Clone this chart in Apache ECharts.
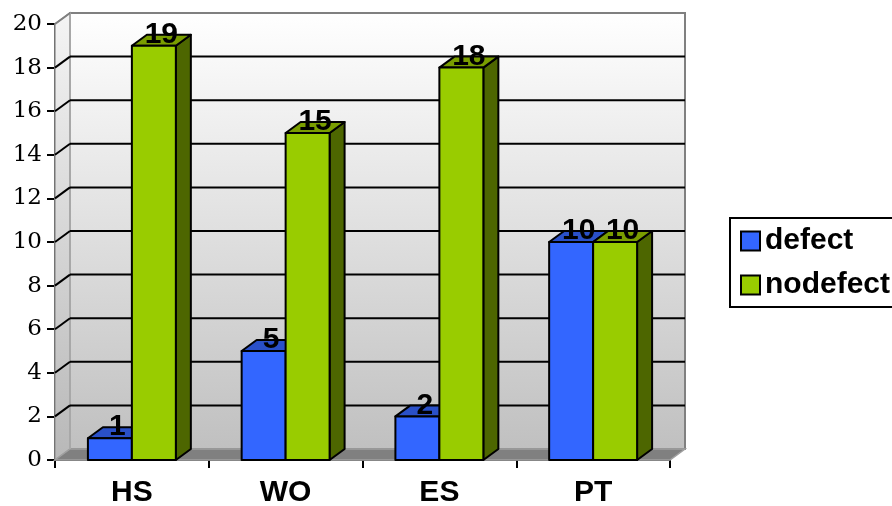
<!DOCTYPE html>
<html><head><meta charset="utf-8">
<script src="https://cdn.jsdelivr.net/npm/echarts@6/dist/echarts.min.js"></script>
<style>html,body{margin:0;padding:0;background:#fff}#c{width:892px;height:506px}</style>
</head><body><div id="c"></div>
<script>
const categories = ['HS', 'WO', 'ES', 'PT'];
const defect = [1, 5, 2, 10];
const nodefect = [19, 15, 18, 10];
const yTicks = [0, 2, 4, 6, 8, 10, 12, 14, 16, 18, 20];
const seriesNames = ['defect', 'nodefect'];

const DX = 15, DY = -11;
const BOLD = '"Liberation Sans", Arial, sans-serif';
const COLORS = [
  {front: '#3366FF', top: '#2a50c8', side: '#1f3d99'},
  {front: '#99CC00', top: '#7a9e00', side: '#4d6600'}
];

const chart = echarts.init(document.getElementById('c'), null, {renderer: 'canvas'});

function barGeom(api, side, i, v) {
  const c = api.coord([i, v]);
  const b = api.coord([i, 0]);
  const band = api.size([1, 0])[0];
  const w = band * 0.286;
  const x0 = side === 0 ? c[0] - w : c[0];
  return {x0: x0, x1: x0 + w, yt: c[1], yb: b[1]};
}

function barRender(side) {
  const col = COLORS[side];
  return function (params, api) {
    const g = barGeom(api, side, api.value(0), api.value(1));
    const st = {stroke: '#000', lineWidth: 2, lineJoin: 'round'};
    return {type: 'group', children: [
      {type: 'polygon', shape: {points: [[g.x1, g.yb], [g.x1 + DX, g.yb + DY], [g.x1 + DX, g.yt + DY], [g.x1, g.yt]]},
        style: Object.assign({fill: col.side}, st)},
      {type: 'polygon', shape: {points: [[g.x0, g.yt], [g.x0 + DX, g.yt + DY], [g.x1 + DX, g.yt + DY], [g.x1, g.yt]]},
        style: Object.assign({fill: col.top}, st)},
      {type: 'rect', shape: {x: g.x0, y: g.yt, width: g.x1 - g.x0, height: g.yb - g.yt},
        style: Object.assign({fill: col.front}, st)}
    ]};
  };
}

function labelRender(params, api) {
  const side = api.value(2);
  const v = api.value(1);
  const g = barGeom(api, side, api.value(0), v);
  return {type: 'text', x: (g.x0 + g.x1) / 2 + DX / 2, y: g.yt - 11,
    style: {text: String(v), fill: '#000', font: 'bold 30px ' + BOLD, align: 'center', verticalAlign: 'middle'}};
}

function wallRender(params, api) {
  const cs = params.coordSys;
  const L = cs.x, R = cs.x + cs.width, T = cs.y, B = cs.y + cs.height;
  const grad = new echarts.graphic.LinearGradient(0, 0, 0, 1, [
    {offset: 0, color: '#ffffff'}, {offset: 1, color: '#c0c0c0'}]);
  const grad2 = new echarts.graphic.LinearGradient(0, 0, 0, 1, [
    {offset: 0, color: '#f4f4f4'}, {offset: 1, color: '#b8b8b8'}]);
  return {type: 'group', children: [
    {type: 'rect', shape: {x: L + DX, y: T + DY, width: R - L, height: B - T}, style: {fill: grad, stroke: '#808080', lineWidth: 2}},
    {type: 'polygon', shape: {points: [[L, B], [L + DX, B + DY], [L + DX, T + DY], [L, T]]}, style: {fill: grad2, stroke: '#999', lineWidth: 1.5}},
    {type: 'polygon', shape: {points: [[L, B], [L + DX, B + DY], [R + DX, B + DY], [R, B]]}, style: {fill: '#808080', stroke: '#a0a0a0', lineWidth: 1.5}},
    {type: 'line', shape: {x1: L + DX, y1: T + DY, x2: L + DX, y2: B + DY}, style: {stroke: '#a8a8a8', lineWidth: 2}}
  ]};
}

function gridRender(params, api) {
  const cs = params.coordSys;
  const L = cs.x, R = cs.x + cs.width;
  const v = api.value(0);
  const y = api.coord([0, v])[1];
  if (v === yTicks[0]) return null;
  if (v === yTicks[yTicks.length - 1]) {
    return {type: 'line', shape: {x1: L, y1: y, x2: L + DX, y2: y + DY}, style: {stroke: '#808080', lineWidth: 2}};
  }
  return {type: 'group', children: [
    {type: 'line', shape: {x1: L, y1: y, x2: L + DX, y2: y + DY}, style: {stroke: '#000', lineWidth: 2}},
    {type: 'line', shape: {x1: L + DX, y1: y + DY, x2: R + DX, y2: y + DY}, style: {stroke: '#000', lineWidth: 2}}
  ]};
}

const labelData = [];
defect.forEach((v, i) => labelData.push([i, v, 0]));
nodefect.forEach((v, i) => labelData.push([i, v, 1]));

chart.setOption({
  animation: false,
  grid: {left: 55, right: 222, top: 24, bottom: 46, containLabel: false, outerBoundsMode: 'none'},
  graphic: [{
    type: 'rect', left: 729, top: 217, z: 0, silent: true,
    shape: {width: 200, height: 89},
    style: {fill: '#fff', stroke: '#000', lineWidth: 2}
  }],
  xAxis: {
    type: 'category', data: categories, boundaryGap: true,
    axisLine: {show: true, lineStyle: {color: '#000', width: 1.5}},
    axisTick: {show: true, interval: 0, length: 8, lineStyle: {color: '#000', width: 2}},
    axisLabel: {margin: 18, color: '#000', fontFamily: BOLD, fontWeight: 'bold', fontSize: 30}
  },
  yAxis: {
    type: 'value', min: 0, max: 20, interval: 2,
    axisLine: {show: true, lineStyle: {color: '#000', width: 2}},
    axisTick: {show: true, length: 8, lineStyle: {color: '#000', width: 2}},
    axisLabel: {margin: 13, color: '#000', fontFamily: '"DejaVu Serif", serif', fontSize: 23},
    splitLine: {show: false}
  },
  legend: {
    orient: 'vertical', left: 729, top: 217,
    icon: 'rect', itemWidth: 19, itemHeight: 19, itemGap: 14,
    padding: [9, 0, 7, 11],
    borderWidth: 0, backgroundColor: 'transparent',
    textStyle: {color: '#000', fontFamily: BOLD, fontWeight: 'bold', fontSize: 30},
    data: [
      {name: seriesNames[0], itemStyle: {color: COLORS[0].front, borderColor: '#000', borderWidth: 2}},
      {name: seriesNames[1], itemStyle: {color: COLORS[1].front, borderColor: '#000', borderWidth: 2}}
    ]
  },
  series: [
    {type: 'custom', silent: true, z: 1, data: [[0]], renderItem: wallRender, encode: {x: -1, y: -1}},
    {type: 'custom', silent: true, z: 2, data: yTicks.map(v => [v]), renderItem: gridRender, encode: {y: 0}},
    {type: 'custom', name: seriesNames[0], z: 3, itemStyle: {color: COLORS[0].front},
      data: defect.map((v, i) => [i, v]), renderItem: barRender(0), encode: {x: 0, y: 1}},
    {type: 'custom', name: seriesNames[1], z: 3, itemStyle: {color: COLORS[1].front},
      data: nodefect.map((v, i) => [i, v]), renderItem: barRender(1), encode: {x: 0, y: 1}},
    {type: 'custom', silent: true, z: 5, data: labelData, renderItem: labelRender, encode: {x: 0, y: 1}}
  ]
});
</script>
</body></html>
